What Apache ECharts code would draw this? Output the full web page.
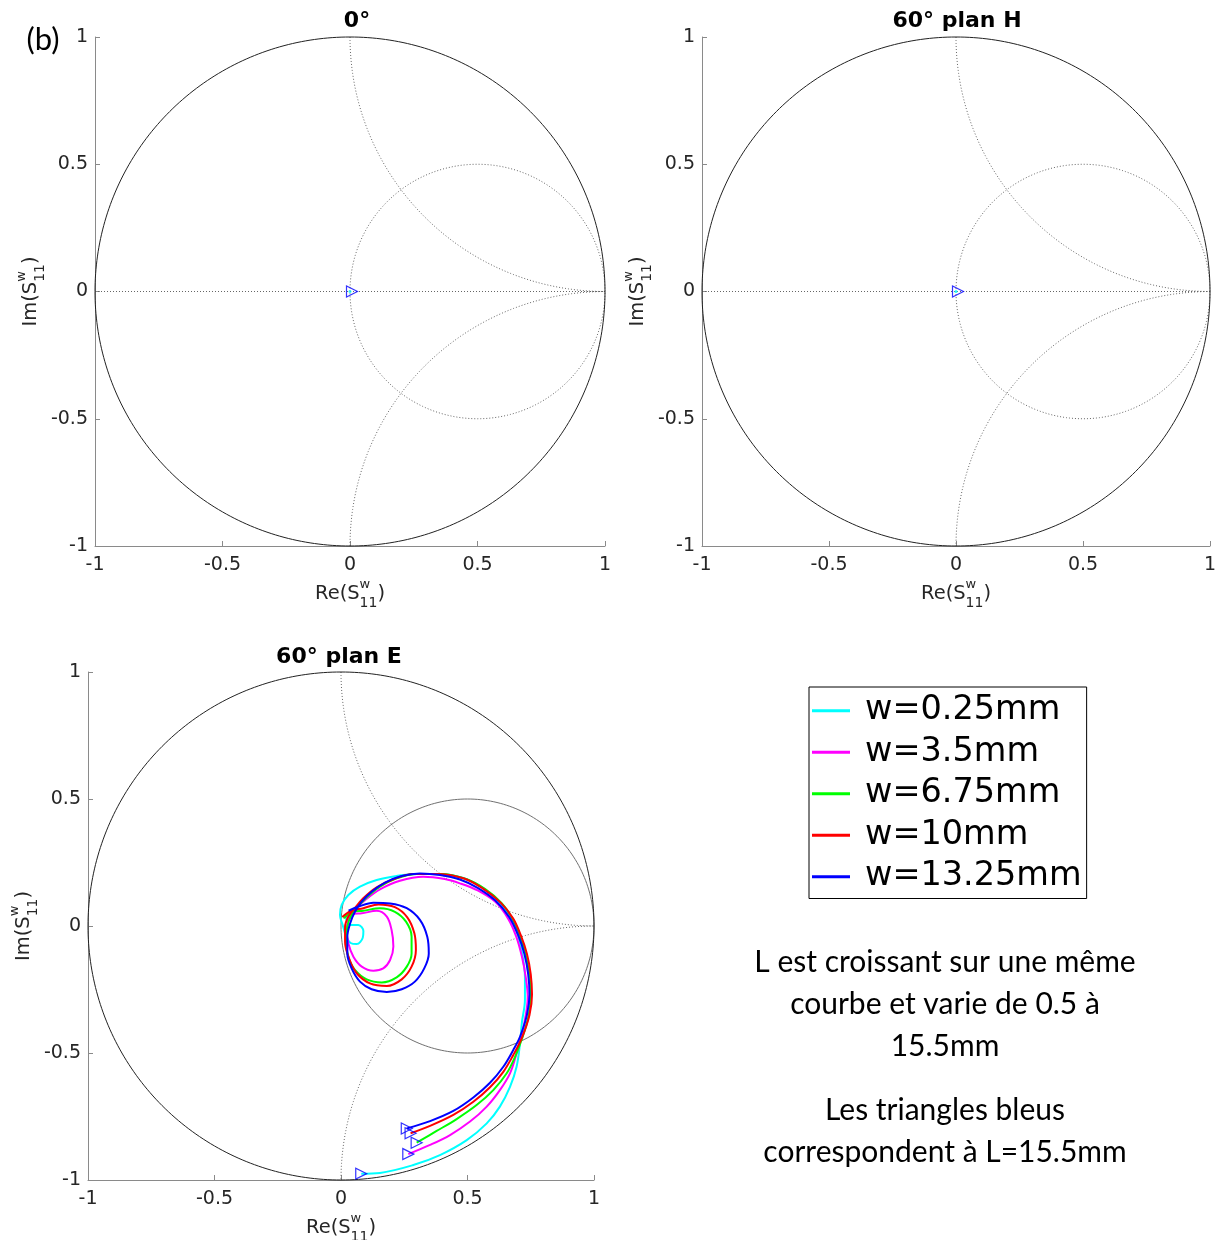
<!DOCTYPE html>
<html><head><meta charset="utf-8">
<script src="https://cdn.jsdelivr.net/npm/echarts@6/dist/echarts.min.js"></script>
<style>html,body{margin:0;padding:0;background:#fff}#c{width:1222px;height:1240px}</style>
</head><body><div id="c"></div>
<script>
// ---------- data ----------
const tickValues = [-1, -0.5, 0, 0.5, 1];
const panelTitles = ['0°', '60° plan H', '60° plan E'];
const curveNames = ['w=0.25mm', 'w=3.5mm', 'w=6.75mm', 'w=10mm', 'w=13.25mm'];
const curveColors = ['#00FFFF', '#FF00FF', '#00FF00', '#FF0000', '#0000FF'];
const noteLines1 = ['L est croissant sur une même', 'courbe et varie de 0.5 à', '15.5mm'];
const noteLines2 = ['Les triangles bleus', 'correspondent à L=15.5mm'];

// panels 0° and 60° plan H : all curves collapse on the centre
const centrePoint = [[0, 0]];

// panel 60° plan E : [Re, Im] along L = 0.5 ... 15.5 mm
const w025 = [[0.016,0.043],[0.036,0.004],[0.0685,0.004],[0.0885,-0.020],[0.086,-0.046],[0.062,-0.071],[0.038,-0.067],[0.0197,-0.039],[0.0066,0.004],[-0.004,0.043],[0.0026,0.083],[0.029,0.122],[0.075,0.155],[0.141,0.181],[0.220,0.197],[0.2995,0.205],[0.391,0.205],[0.48,0.19],[0.56,0.15],[0.625,0.095],[0.672,0.03],[0.70,-0.04],[0.718,-0.12],[0.727,-0.2],[0.727,-0.29],[0.715,-0.38],[0.7075,-0.462],[0.694,-0.554],[0.668,-0.633],[0.628,-0.711],[0.576,-0.777],[0.497,-0.843],[0.391,-0.902],[0.286,-0.941],[0.154,-0.972],[0.08,-0.975]];
const w35 = [[0.02,0.035],[0.05,0.048],[0.082,0.050],[0.141,0.060],[0.181,0.037],[0.200,-0.016],[0.207,-0.081],[0.194,-0.134],[0.167,-0.167],[0.128,-0.176],[0.082,-0.160],[0.049,-0.121],[0.029,-0.068],[0.0224,-0.016],[0.0316,0.030],[0.055,0.066],[0.095,0.102],[0.154,0.144],[0.233,0.178],[0.325,0.194],[0.41,0.185],[0.47,0.168],[0.54,0.14],[0.61,0.095],[0.66,0.03],[0.692,-0.04],[0.715,-0.12],[0.73,-0.2],[0.738,-0.28],[0.725,-0.38],[0.694,-0.501],[0.668,-0.580],[0.628,-0.646],[0.576,-0.711],[0.510,-0.770],[0.431,-0.823],[0.352,-0.862],[0.266,-0.898]];
const w675 = [[0.01,0.03],[0.045,0.055],[0.088,0.060],[0.154,0.070],[0.213,0.056],[0.257,0.017],[0.279,-0.042],[0.279,-0.108],[0.260,-0.160],[0.220,-0.202],[0.161,-0.222],[0.1015,-0.210],[0.055,-0.173],[0.029,-0.121],[0.020,-0.062],[0.025,-0.003],[0.038,0.037],[0.062,0.070],[0.1015,0.113],[0.154,0.155],[0.220,0.188],[0.299,0.205],[0.391,0.205],[0.497,0.184],[0.57,0.145],[0.635,0.09],[0.68,0.025],[0.71,-0.045],[0.73,-0.115],[0.745,-0.195],[0.75,-0.28],[0.74,-0.36],[0.715,-0.445],[0.688,-0.515],[0.655,-0.580],[0.602,-0.646],[0.536,-0.705],[0.457,-0.760],[0.378,-0.807],[0.299,-0.853]];
const w10 = [[0.005,0.035],[0.04,0.06],[0.088,0.070],[0.148,0.085],[0.213,0.074],[0.262,0.034],[0.290,-0.029],[0.296,-0.094],[0.279,-0.160],[0.240,-0.210],[0.181,-0.236],[0.1146,-0.226],[0.062,-0.186],[0.0316,-0.127],[0.016,-0.062],[0.016,-0.003],[0.029,0.037],[0.051,0.066],[0.088,0.109],[0.141,0.152],[0.207,0.184],[0.286,0.205],[0.378,0.205],[0.484,0.188],[0.56,0.148],[0.63,0.093],[0.68,0.03],[0.712,-0.04],[0.735,-0.11],[0.75,-0.19],[0.755,-0.27],[0.745,-0.35],[0.715,-0.44],[0.681,-0.508],[0.6416,-0.574],[0.589,-0.635],[0.523,-0.692],[0.444,-0.744],[0.352,-0.787],[0.275,-0.816]];
const w1325 = [[0.03,0.06],[0.068,0.076],[0.128,0.092],[0.194,0.089],[0.26,0.070],[0.312,0.024],[0.341,-0.042],[0.347,-0.108],[0.329,-0.167],[0.292,-0.219],[0.240,-0.249],[0.181,-0.260],[0.121,-0.249],[0.075,-0.219],[0.042,-0.167],[0.025,-0.108],[0.025,-0.042],[0.036,0.010],[0.055,0.056],[0.082,0.096],[0.121,0.135],[0.174,0.171],[0.240,0.197],[0.312,0.207],[0.391,0.201],[0.47,0.183],[0.54,0.15],[0.61,0.10],[0.665,0.035],[0.70,-0.035],[0.725,-0.11],[0.74,-0.19],[0.745,-0.27],[0.735,-0.35],[0.7075,-0.436],[0.681,-0.488],[0.6416,-0.554],[0.589,-0.617],[0.523,-0.675],[0.444,-0.728],[0.352,-0.768],[0.26,-0.797]];
const curves = [w025, w35, w675, w10, w1325];

// ---------- Smith chart grid geometry (not data) ----------
function arc(cx, cy, r, a0, a1, n) {
  const pts = [];
  for (let i = 0; i <= n; i++) {
    const a = (a0 + (a1 - a0) * i / n) * Math.PI / 180;
    pts.push([cx + r * Math.cos(a), cy + r * Math.sin(a)]);
  }
  return pts;
}
const unitCircle = arc(0, 0, 1, 0, 360, 360);
const rOneCircle = arc(0.5, 0, 0.5, 0, 360, 240);
const xPlusArc = arc(1, 1, 1, 180, 270, 120);
const xMinusArc = arc(1, -1, 1, 90, 180, 120);
const realAxis = [[-1, 0], [1, 0]];

// ---------- layout ----------
const grids = [
  { left: 95, top: 37, width: 510, height: 509 },
  { left: 702, top: 37, width: 508, height: 509 },
  { left: 88, top: 672, width: 506, height: 508 }
];
const AX = '#8a8a8a', TXT = '#262626';
const FONT = 'DejaVu Sans';
const nameRich = {
  n: { fontSize: 19.5, fontFamily: FONT, color: TXT, lineHeight: 32, verticalAlign: 'middle', align: 'left' },
  sup: { fontSize: 13, fontFamily: FONT, color: TXT, lineHeight: 13, verticalAlign: 'top', width: 0.01, align: 'left' },
  sub: { fontSize: 14, fontFamily: FONT, color: TXT, lineHeight: 14, verticalAlign: 'bottom', align: 'left' }
};
function axisCommon(i) {
  return {
    gridIndex: i, type: 'value', min: -1, max: 1, interval: 0.5,
    axisLine: { show: true, onZero: false, lineStyle: { color: AX, width: 1 } },
    axisTick: { show: true, inside: true, length: 5, lineStyle: { color: AX } },
    axisLabel: { show: true, color: TXT, fontSize: 19, fontFamily: FONT, showMinLabel: true, showMaxLabel: true, hideOverlap: false,
      formatter: v => String(v) },
    splitLine: { show: false },
    nameLocation: 'middle', nameTextStyle: { rich: nameRich }
  };
}
const xAxes = grids.map((g, i) => Object.assign(axisCommon(i), {
  name: '{n|Re(S}{sup|w}{sub|11}{n|)}', nameGap: 32, axisLabel: Object.assign(axisCommon(i).axisLabel, { margin: 10 })
}));
const yAxes = grids.map((g, i) => Object.assign(axisCommon(i), {
  name: '{n|Im(S}{sup|w}{sub|11}{n|)}', nameGap: 48, axisLabel: Object.assign(axisCommon(i).axisLabel, { margin: 7 })
}));

function lineS(i, data, color, type, width, z, name) {
  return {
    type: 'line', name: name, xAxisIndex: i, yAxisIndex: i, data: data, showSymbol: false, symbol: 'none',
    lineStyle: { color: color, width: width, type: type }, itemStyle: { color: color },
    silent: true, animation: false, z: z, clip: false
  };
}
const DOT = [1, 2];
const series = [];
grids.forEach((g, i) => {
  series.push(lineS(i, unitCircle, '#222', 'solid', 1, 2));
  series.push(lineS(i, xPlusArc, '#666', DOT, 1, 1));
  series.push(lineS(i, xMinusArc, '#666', DOT, 1, 1));
  if (i < 2) {
    series.push(lineS(i, rOneCircle, '#666', DOT, 1, 1));
    series.push(lineS(i, realAxis, '#666', DOT, 1, 1));
  } else {
    series.push(lineS(i, rOneCircle, '#707070', 'solid', 1, 1));
  }
});
// panels 0° / 60° plan H : centre point
[0, 1].forEach(i => {
  series.push({ type: 'scatter', xAxisIndex: i, yAxisIndex: i, data: centrePoint, symbol: 'circle', symbolSize: 3,
    itemStyle: { color: '#00FFFF' }, z: 5, silent: true, animation: false });
  series.push({ type: 'scatter', xAxisIndex: i, yAxisIndex: i, data: centrePoint, symbol: 'triangle', symbolRotate: -90, symbolSize: 11,
    symbolOffset: [2, 0],
    itemStyle: { color: 'rgba(0,0,0,0)', borderColor: '#0000FF', borderWidth: 1.2 }, z: 6, silent: true, animation: false });
});
// panel 60° plan E curves
curves.forEach((c, k) => {
  const s = lineS(2, c, curveColors[k], 'solid', 2, 3 + k, curveNames[k]);
  s.smooth = 0.35;
  series.push(s);
});
series.push({ type: 'scatter', xAxisIndex: 2, yAxisIndex: 2, data: curves.map(c => c[c.length - 1]),
  symbol: 'triangle', symbolRotate: -90, symbolSize: 11,
  itemStyle: { color: 'rgba(0,0,0,0)', borderColor: '#0000FF', borderWidth: 1.2 }, z: 10, silent: true, animation: false });

// ---------- texts ----------
function txt(x, y, text, font, align) {
  return { type: 'text', x: x, y: y, silent: true,
    style: { text: text, font: font, fill: '#000', textAlign: align || 'center', align: align || 'center',
      textVerticalAlign: 'middle', verticalAlign: 'middle' } };
}
const graphics = [
  txt(357, 21, panelTitles[0], 'bold 22px "DejaVu Sans"'),
  txt(957, 21, panelTitles[1], 'bold 22px "DejaVu Sans"'),
  txt(339, 657, panelTitles[2], 'bold 22px "DejaVu Sans"'),
  txt(43, 40, '(b)', '31px Lato')
];
noteLines1.forEach((t, k) => graphics.push(txt(945, 962 + 42 * k, t, '30px Lato')));
noteLines2.forEach((t, k) => graphics.push(txt(945, 1110 + 42 * k, t, '30px Lato')));

const chart = echarts.init(document.getElementById('c'), null, { renderer: 'canvas' });
chart.setOption({
  backgroundColor: '#fff',
  animation: false,
  grid: grids.map(g => Object.assign({ outerBoundsMode: 'none', containLabel: false }, g)),
  xAxis: xAxes,
  yAxis: yAxes,
  legend: {
    data: curveNames, orient: 'vertical', left: 809, top: 687,
    backgroundColor: '#fff', borderColor: '#000', borderWidth: 1, borderRadius: 0,
    padding: [3, 5, 1, 3], itemGap: 0, itemWidth: 38, itemHeight: 3, icon: 'rect',
    textStyle: { fontSize: 33.5, fontFamily: FONT, color: '#000', lineHeight: 41.5, padding: [0, 0, 0, 10] },
    selectedMode: false
  },
  series: series,
  graphic: graphics
});
</script></body></html>
